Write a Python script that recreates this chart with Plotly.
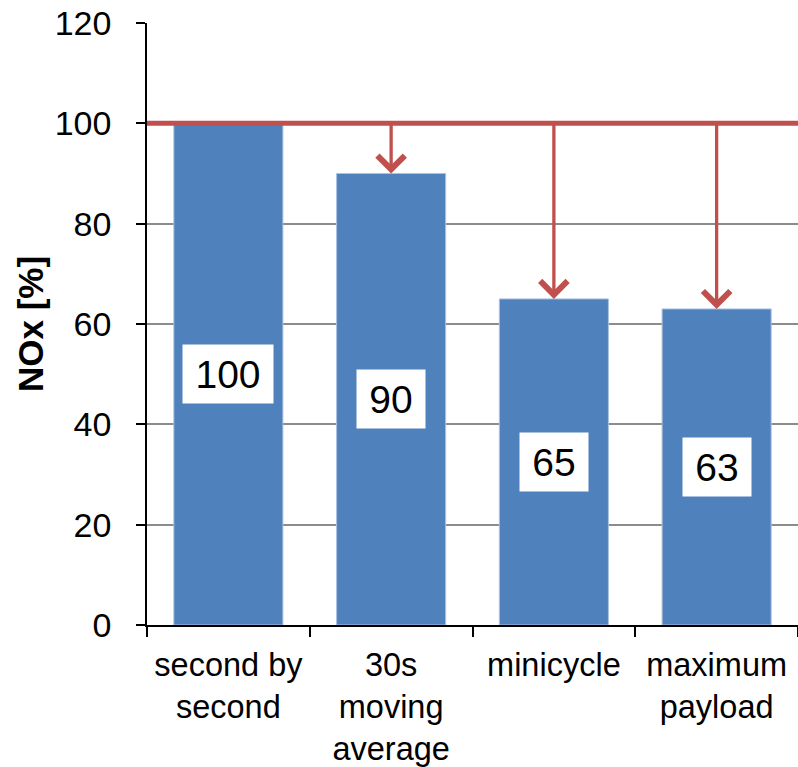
import plotly.graph_objects as go

categories = ["second by<br>second", "30s<br>moving<br>average", "minicycle", "maximum<br>payload"]
values = [100, 90, 65, 63]
labels = ["100", "90", "65", "63"]
reference_value = 100
y_ticks = [0, 20, 40, 60, 80, 100, 120]

BAR = "#4F81BD"
RED = "#C0504D"
FONT = "Liberation Sans, Arial, sans-serif"

fig = go.Figure()
fig.add_trace(go.Bar(
    x=categories, y=values, width=0.67,
    marker=dict(color=BAR, line=dict(color="#A9C1E0", width=1)),
    hoverinfo="skip",
))

# reference line at 100
fig.add_shape(type="line", xref="paper", yref="y", x0=0, x1=1,
              y0=reference_value, y1=reference_value,
              line=dict(color=RED, width=5), layer="above")

# arrows from the reference line down to each reduced bar
for c, v in zip(categories[1:], values[1:]):
    fig.add_annotation(x=c, y=v, ax=c, ay=reference_value,
                       xref="x", yref="y", axref="x", ayref="y",
                       text="", showarrow=True, arrowhead=4, arrowsize=1.6,
                       arrowwidth=3.3, arrowcolor=RED, standoff=0)

# value labels in white boxes, at half bar height
for c, v, t in zip(categories, values, labels):
    fig.add_annotation(x=c, y=v / 2, xref="x", yref="y", text=t,
                       showarrow=False, bgcolor="white",
                       font=dict(family=FONT, size=39, color="black"),
                       width=22 * len(t) + 22, height=56, borderpad=1)

fig.update_layout(
    width=798, height=767,
    margin=dict(l=147, r=0, t=23, b=140),
    paper_bgcolor="white", plot_bgcolor="white",
    showlegend=False, bargap=0.33,
    font=dict(family=FONT, color="black"),
)
fig.update_xaxes(
    type="category", range=[-0.5, 3.5], tickson="boundaries",
    showline=True, linecolor="black", linewidth=1.5,
    ticks="outside", ticklen=10, tickcolor="black", tickwidth=1.5,
    showgrid=False, tickfont=dict(family=FONT, size=32.5, color="black"),
    ticklabelstandoff=10,
)
fig.update_yaxes(
    range=[0, 120], tickvals=y_ticks, ticktext=[str(t) for t in y_ticks],
    showline=True, linecolor="black", linewidth=1.5,
    ticks="outside", ticklen=9, tickcolor="black", tickwidth=1.5,
    showgrid=True, gridcolor="#8C8C8C", gridwidth=1.5,
    zeroline=False,
    tickfont=dict(family=FONT, size=34, color="black"),
    ticklabelstandoff=18,
    title=dict(text="<b>NOx [%]</b>", font=dict(family=FONT, size=35, color="black"),
               standoff=0),
)

fig.write_html("out.html")
